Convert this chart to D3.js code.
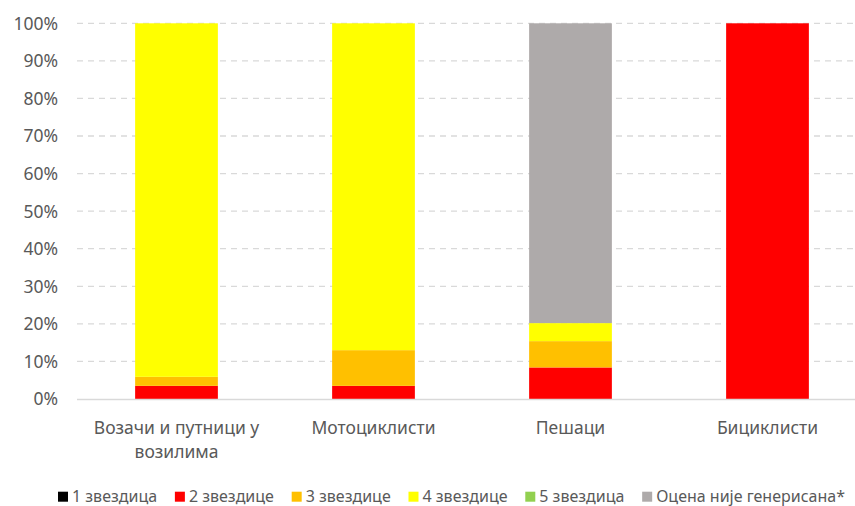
<!DOCTYPE html>
<html>
<head>
<meta charset="utf-8">
<script src="https://cdn.jsdelivr.net/npm/d3@7"></script>
<style>
  body { margin: 0; background: #fff; }
  svg { display: block; font-family: "Noto Sans", sans-serif; }
</style>
</head>
<body>
<div id="chart"></div>
<script>
// categories and series (percent values)
var categories = ["Возачи и путници у возилима", "Мотоциклисти", "Пешаци", "Бициклисти"];
var seriesNames = ["1 звездица", "2 звездице", "3 звездице", "4 звездице", "5 звездица", "Оцена није генерисана*"];
var seriesColors = ["#000000", "#FF0000", "#FFC000", "#FFFF00", "#92D050", "#AEAAAA"];

var star1 = [0, 0, 0, 0];
var star2 = [3.5, 3.5, 8.4, 100];
var star3 = [2.4, 9.5, 7.0, 0];
var star4 = [94.1, 87.0, 4.8, 0];
var star5 = [0, 0, 0, 0];
var notRated = [0, 0, 79.8, 0];

var yTicks = [0, 10, 20, 30, 40, 50, 60, 70, 80, 90, 100];

var svgWidth = 855;
var svgHeight = 506;

var margin = { top: 23.3, right: -11, bottom: 107, left: 78 };
var plotRight = svgWidth - margin.right;
var plotBottom = svgHeight - margin.bottom;

var svg = d3.select("#chart")
    .append("svg")
    .attr("width", svgWidth)
    .attr("height", svgHeight);

// build rows for d3.stack
var allSeries = [star1, star2, star3, star4, star5, notRated];
var rows = categories.map(function(c, i) {
    var row = { category: c };
    seriesNames.forEach(function(s, j) { row[s] = allSeries[j][i]; });
    return row;
});

var stacked = d3.stack().keys(seriesNames)(rows);

var xScale = d3.scaleBand()
    .domain(categories)
    .range([margin.left, plotRight])
    .paddingInner(0.58)
    .paddingOuter(0.29);

var yScale = d3.scaleLinear()
    .domain([0, 100])
    .range([plotBottom, margin.top]);

var textColor = "#595959";

// gridlines
svg.append("g")
    .selectAll("line")
    .data(yTicks.filter(function(t) { return t > 0; }))
    .enter()
    .append("line")
    .attr("x1", margin.left - 1)
    .attr("x2", plotRight)
    .attr("y1", function(d) { return yScale(d); })
    .attr("y2", function(d) { return yScale(d); })
    .attr("stroke", "#D9D9D9")
    .attr("stroke-width", 1.3)
    .attr("stroke-dasharray", "6,5");

// y axis labels
var leftAxis = d3.axisLeft(yScale)
    .tickValues(yTicks)
    .tickSize(0)
    .tickPadding(20)
    .tickFormat(function(d) { return d + "%"; });

var yAxis = svg.append("g")
    .attr("transform", "translate(" + (margin.left) + ",0)")
    .call(leftAxis);
yAxis.select(".domain").remove();
yAxis.selectAll("text")
    .attr("font-family", "Noto Sans, sans-serif")
    .attr("font-size", "17.5px")
    .attr("fill", textColor)
    .attr("dy", "0.34em");

// bars
svg.append("g")
    .selectAll("g")
    .data(stacked)
    .enter()
    .append("g")
    .attr("fill", function(d, i) { return seriesColors[i]; })
    .selectAll("rect")
    .data(function(d) { return d; })
    .enter()
    .append("rect")
    .attr("x", function(d) { return xScale(d.data.category); })
    .attr("y", function(d) { return yScale(d[1]); })
    .attr("width", xScale.bandwidth())
    .attr("height", function(d) { return yScale(d[0]) - yScale(d[1]); });

// baseline
svg.append("line")
    .attr("x1", margin.left - 1)
    .attr("x2", plotRight)
    .attr("y1", plotBottom + 0.5)
    .attr("y2", plotBottom + 0.5)
    .attr("stroke", "#D9D9D9")
    .attr("stroke-width", 1.3);

// x axis labels with wrapping
var lineHeight = 24;
var bottomAxis = d3.axisBottom(xScale).tickSize(0).tickPadding(0);
var xAxis = svg.append("g")
    .attr("transform", "translate(0," + plotBottom + ")")
    .call(bottomAxis);
xAxis.select(".domain").remove();
xAxis.selectAll("text")
    .attr("font-family", "Noto Sans, sans-serif")
    .attr("font-size", "17.5px")
    .attr("fill", textColor)
    .attr("y", 35)
    .attr("dy", 0)
    .each(function() {
        var text = d3.select(this);
        var words = text.text().split(" ");
        text.text(null);
        var line = [];
        var lineNo = 0;
        var tspan = text.append("tspan").attr("x", 0).attr("y", 35);
        words.forEach(function(w) {
            line.push(w);
            tspan.text(line.join(" "));
            if (tspan.node().getComputedTextLength() > 170 && line.length > 1) {
                line.pop();
                tspan.text(line.join(" "));
                line = [w];
                lineNo++;
                tspan = text.append("tspan").attr("x", 0).attr("y", 35 + lineNo * lineHeight).text(w);
            }
        });
    });

// legend
var legendStart = 58;
var legendEnd = 845;
var legendGroup = svg.append("g");
var items = legendGroup.selectAll("g")
    .data(seriesNames)
    .enter()
    .append("g");

items.append("rect")
    .attr("width", 10)
    .attr("height", 10)
    .attr("y", 491.7)
    .attr("fill", function(d, i) { return seriesColors[i]; });

items.append("text")
    .attr("x", 14)
    .attr("y", 501.5)
    .attr("font-size", "16px")
    .attr("fill", textColor)
    .text(function(d) { return d; });

var widths = [];
items.selectAll("text").each(function() { widths.push(this.getComputedTextLength()); });
var total = d3.sum(widths) + widths.length * 14;
var gap = (legendEnd - legendStart - total) / (widths.length - 1);
var cursor = legendStart;
items.attr("transform", function(d, i) {
    var x = cursor;
    cursor += 14 + widths[i] + gap;
    return "translate(" + x + ",0)";
});
</script>
</body>
</html>
